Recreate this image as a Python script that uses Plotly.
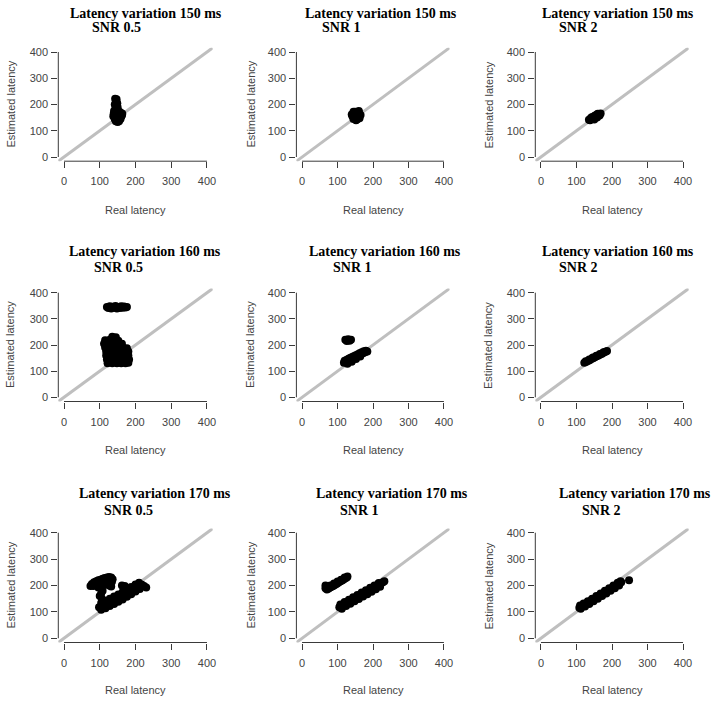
import plotly.graph_objects as go

variations = [150, 160, 170]
snr_levels = ['0.5', '1', '2']
tick_vals = [0, 100, 200, 300, 400]
axis_range = [-16, 416]

# real vs estimated latency (ms)
real_150_05 = [143, 147, 145, 149, 142, 148, 150, 144, 150, 140, 155, 160, 163, 139, 148, 157, 162, 138, 150, 158, 160, 142, 152, 158, 145, 154, 150]
est_150_05 = [222, 220, 210, 205, 200, 195, 190, 185, 178, 175, 172, 168, 165, 165, 162, 160, 158, 155, 152, 150, 155, 145, 142, 145, 136, 136, 133]

real_150_1 = [145, 155, 162, 142, 150, 160, 165, 145, 155, 160, 150, 148, 158, 140, 152, 152, 145, 160]
est_150_1 = [145, 143, 148, 155, 155, 157, 160, 165, 167, 170, 172, 150, 162, 162, 140, 160, 172, 175]

real_150_2 = [138, 145, 150, 155, 162, 168, 145, 152, 158, 150, 158, 140, 165, 135, 142, 160]
est_150_2 = [140, 145, 150, 155, 160, 166, 152, 158, 162, 143, 150, 147, 158, 142, 150, 165]

real_160_05 = [120, 128, 136, 144, 152, 160, 168, 176, 124, 132, 140, 148, 156, 164, 172,
               135, 145,
               115, 128, 140, 152,
               112, 125, 138, 150, 162,
               115, 128, 140, 152, 165, 176,
               118, 130, 142, 155, 168, 180,
               118, 130, 142, 155, 168, 180,
               120, 132, 145, 158, 170, 182,
               122, 135, 148, 160, 172, 180]
est_160_05 = [345, 348, 346, 349, 345, 348, 347, 345, 341, 340, 342, 340, 341, 342, 343,
              232, 230,
              218, 220, 218, 216,
              205, 205, 205, 205, 205,
              190, 190, 190, 190, 190, 188,
              175, 175, 175, 175, 175, 175,
              160, 160, 160, 160, 160, 160,
              145, 145, 145, 145, 145, 145,
              130, 130, 130, 130, 130, 132]

real_160_1 = [122, 130, 138, 126, 134,
              118, 124, 130, 136, 142, 148, 154, 160, 166, 172, 178, 184,
              120, 126, 132, 138, 144, 150, 156, 162, 168, 174, 180,
              128, 140, 152, 164]
est_160_1 = [220, 222, 220, 215, 216,
             132, 136, 140, 144, 148, 152, 156, 160, 164, 168, 172, 175,
             140, 144, 148, 152, 156, 160, 164, 168, 172, 176, 178,
             128, 136, 146, 156]

real_160_2 = [122, 127, 132, 137, 142, 147, 152, 157, 162, 167, 172, 177, 182, 186, 126, 136, 146, 156, 166, 176]
est_160_2 = [132, 135, 139, 142, 146, 149, 153, 157, 160, 164, 167, 171, 174, 177, 138, 145, 152, 159, 166, 172]

real_170_05 = [74, 78, 84, 90, 96, 102, 108, 114, 120, 126, 132, 136, 130, 124, 118, 112, 106, 100, 94, 88, 82,
               96, 104, 112, 120, 128, 134, 104, 108, 104, 100, 106, 96, 126, 132,
               98, 104, 110, 116, 122, 128, 134, 140, 146, 152, 158, 164, 170, 176, 182, 188, 194, 200, 206, 212, 218, 224, 230,
               104, 116, 128, 140, 152, 164, 176, 188, 200, 210,
               104, 116, 128, 140, 152, 164, 176, 188, 200, 212,
               162, 170]
est_170_05 = [198, 206, 212, 216, 220, 222, 226, 228, 230, 232, 230, 224, 222, 220, 218, 214, 212, 208, 206, 202, 198,
              196, 200, 204, 210, 212, 214, 190, 180, 170, 160, 150, 192, 200, 196,
              118, 121, 124, 127, 131, 135, 139, 143, 147, 151, 156, 160, 165, 170, 175, 180, 185, 190, 195, 200, 203, 198, 192,
              134, 142, 150, 158, 166, 175, 184, 194, 204, 210,
              108, 114, 122, 130, 138, 147, 157, 167, 177, 187,
              200, 198]

real_170_1 = [66, 66, 70, 74, 78, 82, 86, 90, 94, 98, 102, 106, 110, 114, 118, 122, 126, 128, 80, 90, 100, 110, 120,
              105, 110, 115, 120, 126, 132, 138, 144, 150, 156, 162, 168, 174, 180, 186, 192, 198, 204, 210, 216, 222, 228, 232,
              108, 120, 132, 144, 156, 168, 180, 192, 204, 216,
              112, 124, 136, 148, 160, 172, 184, 196, 208, 220]
est_170_1 = [200, 190, 185, 188, 191, 194, 197, 200, 204, 207, 210, 214, 217, 220, 224, 227, 230, 234, 200, 208, 215, 222, 230,
             118, 122, 126, 129, 134, 138, 143, 147, 152, 156, 161, 165, 170, 174, 179, 183, 188, 193, 197, 202, 207, 212, 216,
             128, 137, 146, 155, 164, 173, 182, 191, 200, 209,
             112, 122, 131, 140, 149, 158, 167, 176, 186, 195]

real_170_2 = [108, 113, 118, 124, 130, 136, 142, 148, 154, 160, 166, 172, 178, 184, 190, 196, 202, 208, 214, 220, 226,
              110, 120, 132, 144, 156, 168, 180, 192, 204, 216, 224,
              112, 124, 136, 148, 160, 172, 184, 196, 208, 220,
              248]
est_170_2 = [116, 120, 124, 129, 134, 138, 143, 148, 153, 158, 163, 167, 172, 177, 182, 187, 192, 197, 202, 207, 212,
             124, 132, 140, 150, 160, 170, 180, 190, 200, 210, 216,
             112, 120, 130, 140, 150, 160, 170, 180, 190, 200,
             220]

panels = [
    (real_150_05, est_150_05), (real_150_1, est_150_1), (real_150_2, est_150_2),
    (real_160_05, est_160_05), (real_160_1, est_160_1), (real_160_2, est_160_2),
    (real_170_05, est_170_05), (real_170_1, est_170_1), (real_170_2, est_170_2),
]

W, H = 716, 708
# plot boxes in page pixels
col_px = [(58.3, 212.7), (296.4, 449.6), (535.3, 688.7)]
row_px = [(47.8, 161.2), (288.5, 401.5), (528.5, 642.5)]
title1_left = [[68, 303, 540], [67, 307, 540], [77, 314, 557]]
title2_left = [[90, 320, 557], [92, 331, 557], [102, 338, 580]]
title_y = [(13, 28), (252, 267), (494, 510)]
ylab_x = [10, 250, 488]
xlab_y = [210, 450, 690]


def px(v):
    return v / W


def py(v):
    return 1 - v / H


ax_col = '#3a3a3a'
tick_font = dict(family='Liberation Sans, Arial', size=11, color='#444444')
title_font = dict(family='Liberation Serif, Times New Roman', size=14, color='black')

fig = go.Figure()
annotations = []
shapes = []

for i, (xs, ys) in enumerate(panels):
    r, c = divmod(i, 3)
    n = '' if i == 0 else str(i + 1)
    xref, yref = 'x' + n, 'y' + n

    # identity line
    fig.add_trace(go.Scatter(x=axis_range, y=axis_range, mode='lines', xaxis=xref, yaxis=yref,
                             line=dict(color='#bfbfbf', width=3), hoverinfo='skip', showlegend=False))
    fig.add_trace(go.Scatter(x=xs, y=ys, mode='markers', xaxis=xref, yaxis=yref,
                             marker=dict(color='black', size=8, line=dict(width=0)), showlegend=False))

    x0, x1 = col_px[c]
    y0, y1 = row_px[r]
    axis_common = dict(range=axis_range, tickvals=tick_vals, ticks='outside', ticklen=6,
                       tickwidth=1, tickcolor=ax_col, showgrid=False, zeroline=False,
                       showline=False, tickfont=tick_font, fixedrange=True)
    fig.update_layout(**{
        'xaxis' + n: dict(domain=[px(x0), px(x1)], anchor=yref, ticklabelstandoff=4, **axis_common),
        'yaxis' + n: dict(domain=[py(y1), py(y0)], anchor=xref, tickangle=0, ticklabelstandoff=1, **axis_common),
    })

    # R-style axis lines spanning only the tick range
    shapes.append(dict(type='line', xref=xref, yref=yref + ' domain', x0=tick_vals[0], x1=tick_vals[-1],
                       y0=0, y1=0, line=dict(color=ax_col, width=1)))
    shapes.append(dict(type='line', xref=xref + ' domain', yref=yref, x0=0, x1=0,
                       y0=tick_vals[0], y1=tick_vals[-1], line=dict(color=ax_col, width=1)))

    annotations.append(dict(text='<b>Latency variation %d ms</b>' % variations[r], xref='paper', yref='paper',
                            x=px(title1_left[r][c]), y=py(title_y[r][0]), xanchor='left', yanchor='middle',
                            showarrow=False, font=title_font))
    annotations.append(dict(text='<b>SNR %s</b>' % snr_levels[c], xref='paper', yref='paper',
                            x=px(title2_left[r][c]), y=py(title_y[r][1]), xanchor='left', yanchor='middle',
                            showarrow=False, font=title_font))
    annotations.append(dict(text='Real latency', xref=xref, yref='paper', x=200, y=py(xlab_y[r]),
                            xanchor='center', yanchor='middle', showarrow=False, font=tick_font))
    annotations.append(dict(text='Estimated latency', xref='paper', yref=yref, x=px(ylab_x[c]), y=200,
                            xanchor='center', yanchor='middle', textangle=-90, showarrow=False, font=tick_font))

fig.update_layout(template='none', width=W, height=H, margin=dict(l=0, r=0, t=0, b=0),
                  plot_bgcolor='white', paper_bgcolor='white',
                  annotations=annotations, shapes=shapes)

# drop the browser's default 8px body margin so the figure sits at the page corner
fig.write_html('out.html', config={'displayModeBar': False},
               post_script="document.body.style.margin = '0px';")
